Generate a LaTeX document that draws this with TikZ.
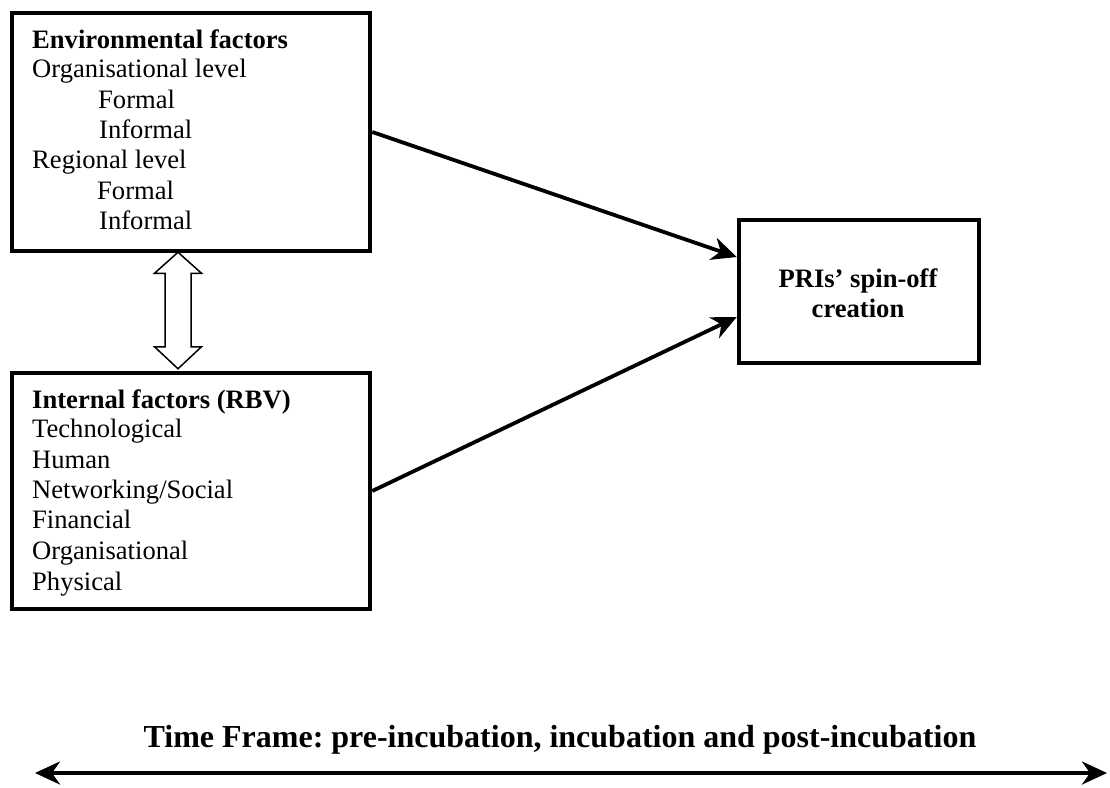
\documentclass[tikz,border=0pt]{standalone}
\usepackage{fontspec}
\setmainfont{Liberation Serif}
\usetikzlibrary{arrows.meta,calc}
\frenchspacing
\begin{document}
\begin{tikzpicture}[x=1pt,y=-1pt,
  box/.style={draw=black,line width=4.5pt,inner sep=0pt,fill=white},
  txt/.style={anchor=base west,inner sep=0pt,font=\fontsize{26.6}{30.3}\selectfont},
  btxt/.style={txt,font=\fontsize{26.6}{30.3}\selectfont\bfseries},
  ctxt/.style={anchor=base,inner sep=0pt,font=\fontsize{26.6}{30.3}\selectfont\bfseries},
  tip/.tip={Stealth[length=25pt,width=23pt,inset=8pt]},
  conn/.style={line width=3.8pt,-tip},
  hollow/.style={draw=black,line width=1.5pt,fill=white,line join=miter}]
\useasboundingbox (0,0) rectangle (1110,787);

% boxes
\node[box,minimum width=358pt,minimum height=238pt] (env) at (191,132) {};
\node[box,minimum width=358pt,minimum height=236pt] (int) at (191,491) {};
\node[box,minimum width=240pt,minimum height=143pt] (pri) at (859,291.5) {};

% environmental factors text
\node[btxt] (e1) at (32,48) {Environmental factors};
\node[txt] (e2) at (32,77) {Organisational level};
\node[txt] (e3) at (98,108) {Formal};
\node[txt] (e4) at (99,138) {Informal};
\node[txt] (e5) at (32,168) {Regional level};
\node[txt] (e6) at (97,199) {Formal};
\node[txt] (e7) at (99,229) {Informal};

% internal factors text
\node[btxt] (i1) at (32,408) {Internal factors (RBV)};
\node[txt] (i2) at (32,437) {Technological};
\node[txt] (i3) at (32,468) {Human};
\node[txt] (i4) at (32,498) {Networking/Social};
\node[txt] (i5) at (32,528) {Financial};
\node[txt] (i6) at (32,559) {Organisational};
\node[txt] (i7) at (32,590) {Physical};

% outcome text
\node[ctxt] (p1) at (858,287) {PRIs’ spin-off};
\node[ctxt] (p2) at (858,317) {creation};

% connectors
\draw[conn] (env.east) -- ([yshift=34.5pt]pri.west);
\draw[conn] (int.east) -- ([yshift=-25.5pt]pri.west);

% hollow double arrow
\coordinate (ht) at ([xshift=-13pt,yshift=1pt]env.south);
\coordinate (hb) at ([xshift=-13pt,yshift=2pt]int.north);
\draw[hollow] (ht) -- ($(ht)+(23.5,21)$) -- ($(ht)+(13,21)$) -- ($(hb)+(13,-22)$)
  -- ($(hb)+(23.5,-22)$) -- (hb) -- ($(hb)+(-23.5,-22)$) -- ($(hb)+(-13,-22)$)
  -- ($(ht)+(-13,21)$) -- ($(ht)+(-23.5,21)$) -- cycle;

% time frame
\node[anchor=base,inner sep=0pt,font=\fontsize{32}{36}\selectfont\bfseries] (tf) at (560,747)
  {Time Frame: pre-incubation, incubation and post-incubation};
\coordinate (tl) at (35,773);
\coordinate (tr) at (1107,773);
\draw[line width=3.8pt,tip-tip] (tl) -- (tr);
\end{tikzpicture}
\end{document}
